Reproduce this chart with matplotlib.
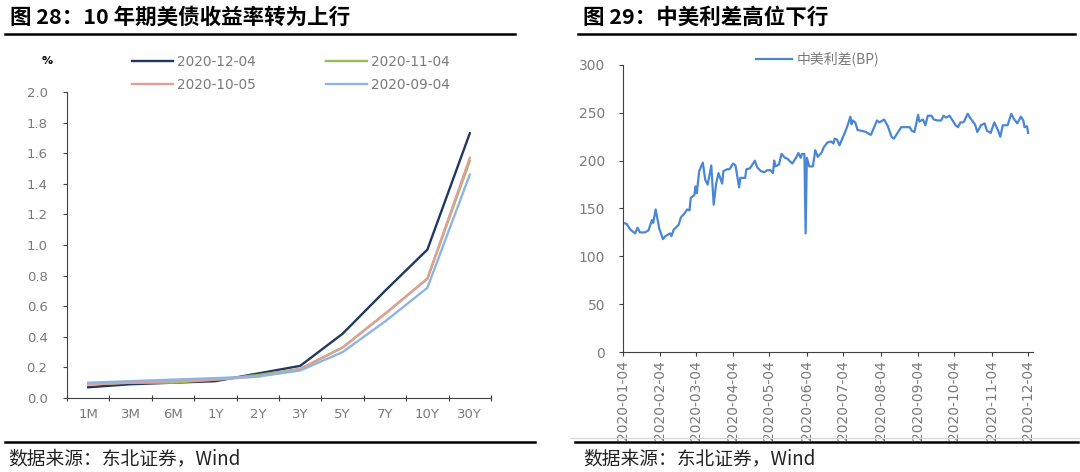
import matplotlib
matplotlib.use('Agg')
import matplotlib.pyplot as plt
import pandas as pd

plt.rcParams['font.family'] = ['DejaVu Sans', 'Noto Sans CJK SC']
CJK = ['Noto Sans CJK SC', 'DejaVu Sans']
GRAY = '#7a7a7a'
AXC = '#404040'

# --- left chart: US treasury curve (%)
tenors = ['1M', '3M', '6M', '1Y', '2Y', '3Y', '5Y', '7Y', '10Y', '30Y']
y_1204 = [0.07, 0.09, 0.10, 0.11, 0.16, 0.21, 0.42, 0.70, 0.97, 1.73]
y_1104 = [0.09, 0.10, 0.10, 0.12, 0.15, 0.19, 0.33, 0.55, 0.78, 1.55]
y_1005 = [0.09, 0.10, 0.11, 0.12, 0.14, 0.19, 0.33, 0.55, 0.78, 1.57]
y_0904 = [0.10, 0.11, 0.12, 0.13, 0.14, 0.18, 0.30, 0.50, 0.72, 1.46]

# --- right chart: China-US spread (BP)
dates = ['2020-01-04', '2020-01-07', '2020-01-10', '2020-01-14', '2020-01-16', '2020-01-18',
         '2020-01-22', '2020-01-25', '2020-01-28', '2020-01-29', '2020-01-31', '2020-02-03',
         '2020-02-06', '2020-02-08', '2020-02-12', '2020-02-13', '2020-02-15', '2020-02-19',
         '2020-02-21', '2020-02-24', '2020-02-26', '2020-02-28', '2020-02-29', '2020-03-03',
         '2020-03-04', '2020-03-05', '2020-03-07', '2020-03-10', '2020-03-12', '2020-03-14',
         '2020-03-17', '2020-03-19', '2020-03-21', '2020-03-23', '2020-03-26', '2020-03-27',
         '2020-03-30', '2020-04-01', '2020-04-04', '2020-04-06', '2020-04-09', '2020-04-10',
         '2020-04-14', '2020-04-15', '2020-04-18', '2020-04-22', '2020-04-24', '2020-04-27',
         '2020-04-30', '2020-05-02', '2020-05-05', '2020-05-07', '2020-05-08', '2020-05-09',
         '2020-05-12', '2020-05-14', '2020-05-17', '2020-05-19', '2020-05-23', '2020-05-26',
         '2020-05-28', '2020-05-30', '2020-05-31', '2020-06-02', '2020-06-03', '2020-06-04',
         '2020-06-06', '2020-06-09', '2020-06-11', '2020-06-13', '2020-06-16', '2020-06-18',
         '2020-06-21', '2020-06-24', '2020-06-26', '2020-06-27', '2020-06-29', '2020-07-01',
         '2020-07-03', '2020-07-06', '2020-07-08', '2020-07-10', '2020-07-11', '2020-07-12',
         '2020-07-14', '2020-07-16', '2020-07-20', '2020-07-23', '2020-07-24', '2020-07-27',
         '2020-07-30', '2020-08-01', '2020-08-03', '2020-08-07', '2020-08-10', '2020-08-13',
         '2020-08-15', '2020-08-17', '2020-08-21', '2020-08-25', '2020-08-28', '2020-08-30',
         '2020-09-01', '2020-09-04', '2020-09-05', '2020-09-08', '2020-09-10', '2020-09-12',
         '2020-09-15', '2020-09-17', '2020-09-20', '2020-09-23', '2020-09-25', '2020-09-27',
         '2020-09-30', '2020-10-03', '2020-10-05', '2020-10-07', '2020-10-09', '2020-10-11',
         '2020-10-12', '2020-10-15', '2020-10-18', '2020-10-21', '2020-10-23', '2020-10-26',
         '2020-10-29', '2020-10-31', '2020-11-02', '2020-11-03', '2020-11-06', '2020-11-09',
         '2020-11-11', '2020-11-13', '2020-11-17', '2020-11-20', '2020-11-22', '2020-11-25',
         '2020-11-28', '2020-11-30', '2020-12-01', '2020-12-03', '2020-12-04']
spread = [135, 134, 128, 124, 130, 125,
          125, 127, 138, 135, 149, 129,
          118, 121, 124, 121, 128, 133,
          141, 145, 149, 148, 161, 164,
          173, 166, 189, 198, 180, 175,
          195, 154, 176, 187, 176, 189,
          191, 191, 197, 195, 172, 182,
          182, 191, 192, 200, 193, 189,
          188, 190, 190, 187, 200, 194,
          196, 207, 203, 202, 197, 203,
          208, 203, 207, 207, 124, 203,
          194, 194, 211, 204, 208, 214,
          219, 220, 218, 223, 222, 216,
          222, 231, 238, 246, 238, 242,
          240, 232, 231, 230, 229, 227,
          236, 242, 240, 243, 236, 225,
          223, 227, 235, 235, 235, 231,
          230, 248, 241, 243, 237, 247,
          247, 243, 242, 242, 247, 245,
          247, 241, 237, 235, 240, 240,
          241, 249, 243, 238, 230, 237,
          239, 231, 230, 229, 240, 232,
          225, 237, 237, 249, 244, 239,
          246, 242, 235, 236, 229]
month_ticks = ['2020-01-04', '2020-02-04', '2020-03-04', '2020-04-04', '2020-05-04', '2020-06-04',
               '2020-07-04', '2020-08-04', '2020-09-04', '2020-10-04', '2020-11-04', '2020-12-04']

fig = plt.figure(figsize=(10.8, 4.72), dpi=100)

# titles, rules, source notes
fig.text(10 / 1080, 1 - 17 / 472, '图 28：10 年期美债收益率转为上行', family=CJK,
         fontsize=15.5, fontweight='bold', va='center', ha='left')
fig.text(583 / 1080, 1 - 17 / 472, '图 29：中美利差高位下行', family=CJK,
         fontsize=15.5, fontweight='bold', va='center', ha='left')
for x0, x1 in [(5, 515), (578, 1075)]:
    fig.add_artist(plt.Line2D([x0 / 1080, x1 / 1080], [1 - 33.5 / 472] * 2, color='black', lw=1.8))
for x0, x1 in [(5, 535), (575, 1078)]:
    fig.add_artist(plt.Line2D([x0 / 1080, x1 / 1080], [1 - 442 / 472] * 2, color='black', lw=1.8))
fig.add_artist(plt.Line2D([570 / 1080, 1], [1 - 437.5 / 472] * 2, color='#d9d9d9', lw=1))
for x0 in [8, 583]:
    fig.text(x0 / 1080, 1 - 459 / 472, '数据来源：东北证券，Wind', family=CJK,
             fontsize=13.5, va='center', ha='left', color='#222222')

# left chart
ax1 = fig.add_axes([67 / 1080, 1 - 398 / 472, (491 - 67) / 1080, (398 - 92) / 472])
pos = list(range(len(tenors)))
l1, = ax1.plot(pos, y_1204, color='#1f3864', lw=1.7, label='2020-12-04')
l2, = ax1.plot(pos, y_1104, color='#9bbb59', lw=1.7, label='2020-11-04')
l3, = ax1.plot(pos, y_1005, color='#e0a096', lw=1.7, label='2020-10-05')
l4, = ax1.plot(pos, y_0904, color='#8eb4e3', lw=1.7, label='2020-09-04')
ax1.set_xlim(-0.5, len(tenors) - 0.5)
ax1.set_ylim(0, 2.0)
ax1.set_yticks([i / 10 for i in range(0, 21, 2)])
ax1.set_yticklabels([f'{i / 10:.1f}' for i in range(0, 21, 2)])
ax1.set_xticks([p - 0.5 for p in pos] + [len(tenors) - 0.5])
ax1.set_xticklabels([])
ax1.set_xticks(pos, minor=True)
ax1.set_xticklabels(tenors, minor=True)
ax1.tick_params(axis='x', which='minor', length=0, pad=7, labelsize=9.5, labelcolor=GRAY)
ax1.tick_params(axis='x', which='major', length=4, direction='inout', color=AXC)
ax1.tick_params(axis='y', length=3, color=AXC, labelsize=9.5, labelcolor=GRAY, pad=11)
for s in ['top', 'right']:
    ax1.spines[s].set_visible(False)
for s in ['left', 'bottom']:
    ax1.spines[s].set_color(AXC)
ax1.legend([l1, l3, l2, l4], ['2020-12-04', '2020-10-05', '2020-11-04', '2020-09-04'],
           loc='lower left', bbox_to_anchor=(0.14, 0.982), ncol=2, frameon=False,
           fontsize=9.8, labelcolor=GRAY, handlelength=3.0, handletextpad=0.3,
           columnspacing=5.2, borderaxespad=0, labelspacing=0.68)
fig.text(47 / 1080, 1 - 61 / 472, '%', fontsize=8, fontweight='bold', ha='center', va='center')

# right chart
ax2 = fig.add_axes([623 / 1080, 1 - 352 / 472, (1033 - 623) / 1080, (352 - 65) / 472])
dt = pd.to_datetime(dates)
ax2.plot(dt, spread, color='#4a86d6', lw=1.6, label='中美利差(BP)')
ax2.set_xlim(pd.Timestamp('2020-01-04'), pd.Timestamp('2020-12-08'))
ax2.set_ylim(0, 300)
ax2.set_yticks(range(0, 301, 50))
ax2.set_xticks(pd.to_datetime(month_ticks))
ax2.set_xticklabels(month_ticks, rotation=90)
ax2.tick_params(axis='x', length=3, color=AXC, labelsize=10, labelcolor=GRAY, pad=3)
ax2.tick_params(axis='y', length=3, color=AXC, labelsize=10, labelcolor=GRAY, pad=10)
for s in ['top', 'right']:
    ax2.spines[s].set_visible(False)
for s in ['left', 'bottom']:
    ax2.spines[s].set_color(AXC)
ax2.legend(loc='center', bbox_to_anchor=(0.475, 1.02), frameon=False,
           labelcolor=GRAY, handlelength=2.6, handletextpad=0.3, prop={'family': CJK, 'size': 10})

fig.savefig('out.png', dpi=100)
